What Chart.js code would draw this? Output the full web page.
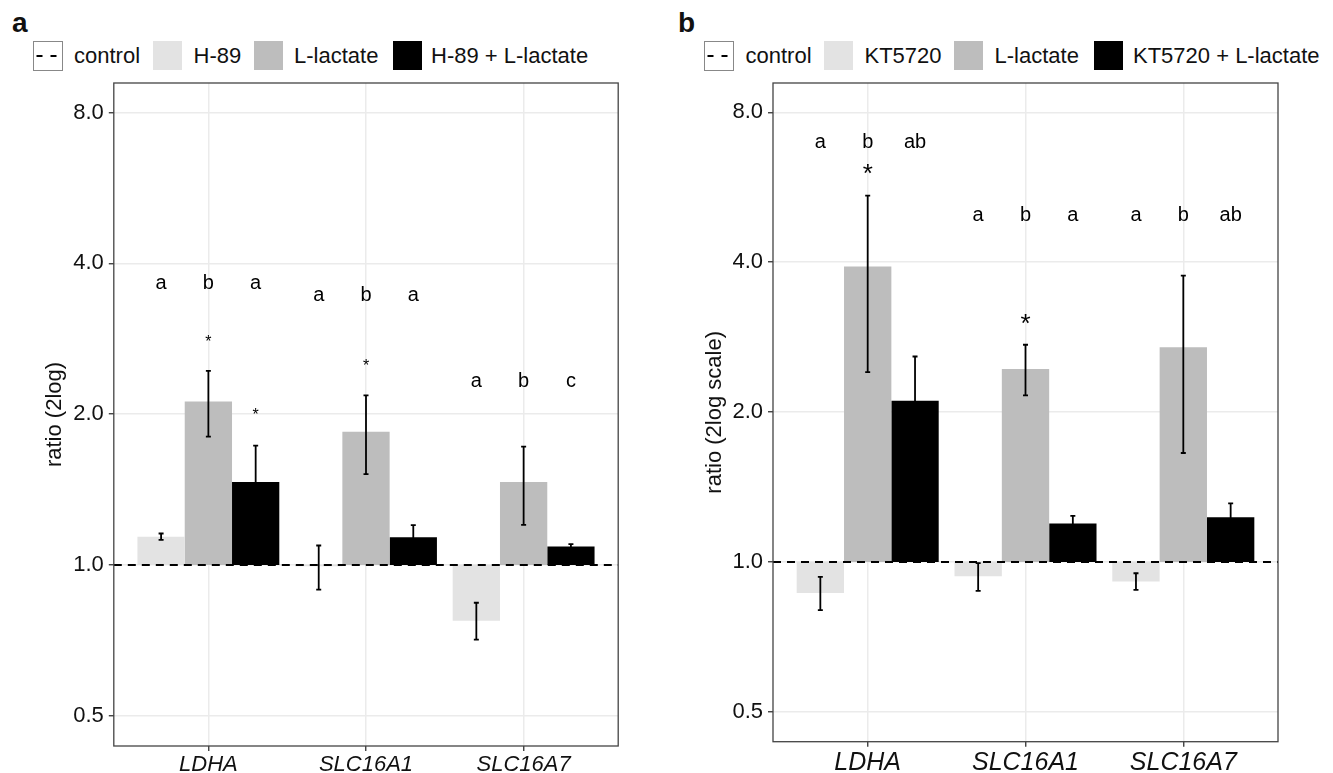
<!DOCTYPE html>
<html lang="en">
<head>
<meta charset="UTF-8" />
<title>PKA inhibitor and L-lactate gene expression</title>
<script src="https://cdn.jsdelivr.net/npm/chart.js"></script>
<style>
  body { margin: 0; background: #fff; font-family: 'Liberation Sans', Arial, sans-serif; color: #111; }
  #page { position: relative; width: 1333px; height: 773px; overflow: hidden; }
  .panel { position: absolute; top: 0; height: 773px; }
  .tag { position: absolute; top: 9px; font-weight: bold; font-size: 28px; line-height: 28px; }
  .key { position: absolute; top: 41px; width: 29px; height: 29px; }
  svg.key { width: 30px; height: 30px; }
  .lab { position: absolute; top: 41px; height: 30px; line-height: 30px; font-size: 22px; white-space: nowrap; }
</style>
</head>
<body>
<div id="page">
  <div class="tag" style="left:12px">a</div>
  <div class="tag" style="left:678px">b</div>
  <div id="legendA"></div>
  <div id="legendB"></div>
  <div class="panel" style="left:0;width:666px"><canvas id="chartA"></canvas></div>
  <div class="panel" style="left:666px;width:667px"><canvas id="chartB"></canvas></div>
</div>

<script>
// shared
const genes = ['LDHA', 'SLC16A1', 'SLC16A7'];
const yTicks = [0.5, 1, 2, 4, 8];
const fills = ['#E3E3E3', '#BDBDBD', '#000000'];

// panel a: H-89
const aTreatments = ['H-89', 'L-lactate', 'H-89 + L-lactate'];
const aH89 = [1.139, 0.995, 0.774];
const aH89Lo = [1.123, 0.893, 0.710];
const aH89Hi = [1.156, 1.094, 0.841];
const aLac = [2.12, 1.846, 1.464];
const aLacLo = [1.805, 1.518, 1.203];
const aLacHi = [2.44, 2.18, 1.724];
const aCombo = [1.464, 1.137, 1.089];
const aComboLo = [1.24, 1.077, 1.077];
const aComboHi = [1.731, 1.201, 1.101];
const aLetters = [['a', 'b', 'a'], ['a', 'b', 'a'], ['a', 'b', 'c']];
const aLetterAt = [3.65, 3.45, 2.32];
const aLacStar = [2.83, 2.53, null];
const aComboStar = [2.02, null, null];

// panel b: KT5720
const bTreatments = ['KT5720', 'L-lactate', 'KT5720 + L-lactate'];
const bKT = [0.866, 0.936, 0.914];
const bKTLo = [0.800, 0.875, 0.879];
const bKTHi = [0.933, 0.995, 0.949];
const bLac = [3.92, 2.44, 2.70];
const bLacLo = [2.406, 2.16, 1.655];
const bLacHi = [5.44, 2.73, 3.76];
const bCombo = [2.107, 1.195, 1.229];
const bComboLo = [1.72, 1.155, 1.15];
const bComboHi = [2.586, 1.237, 1.311];
const bLetters = [['a', 'b', 'ab'], ['a', 'b', 'a'], ['a', 'b', 'ab']];
const bLetterAt = [6.95, 4.96, 4.96];
const bLacStar = [6.15, 3.08, null];
const bComboStar = [null, null, null];

const FONT = "'Liberation Sans', Arial, sans-serif";
Chart.defaults.font.family = FONT;
Chart.defaults.color = '#1a1a1a';

function legend(el, names, keyX, textX) {
  let html = '<svg class="key" style="left:' + keyX[0] + 'px" width="30" height="30">' +
    '<rect x="0.5" y="0.5" width="29" height="29" fill="#fff" stroke="#888"/>' +
    '<line x1="3.5" y1="15" x2="27" y2="15" stroke="#000" stroke-width="2" stroke-dasharray="6 8"/></svg>' +
    '<div class="lab" style="left:' + textX[0] + 'px">control</div>';
  names.forEach((n, i) => {
    html += '<div class="key" style="left:' + keyX[i + 1] + 'px;background:' + fills[i] + '"></div>' +
      '<div class="lab" style="left:' + textX[i + 1] + 'px">' + n + '</div>';
  });
  document.getElementById(el).innerHTML = html;
}

const overlay = {
  id: 'overlay',
  afterDatasetsDraw(chart) {
    const { ctx, chartArea: a, scales: { y } } = chart;
    const cfg = chart.options.plugins.overlay;
    const y1 = y.getPixelForValue(1);
    ctx.save();
    ctx.beginPath();
    ctx.rect(a.left, a.top, a.width, a.height);
    ctx.clip();
    // control line
    ctx.strokeStyle = '#000';
    ctx.lineWidth = 2;
    ctx.setLineDash([8, 6]);
    ctx.beginPath();
    ctx.moveTo(a.left, y1);
    ctx.lineTo(a.right, y1);
    ctx.stroke();
    ctx.setLineDash([]);
    // error bars
    ctx.lineWidth = 1.8;
    chart.data.datasets.forEach((ds, i) => {
      chart.getDatasetMeta(i).data.forEach((bar, j) => {
        const t = y.getPixelForValue(ds.errHi[j]);
        const b = y.getPixelForValue(ds.errLo[j]);
        ctx.beginPath();
        ctx.moveTo(bar.x, t); ctx.lineTo(bar.x, b);
        ctx.moveTo(bar.x - 2.5, t); ctx.lineTo(bar.x + 2.5, t);
        ctx.moveTo(bar.x - 2.5, b); ctx.lineTo(bar.x + 2.5, b);
        ctx.stroke();
      });
    });
    ctx.restore();

    // letters and stars
    ctx.save();
    ctx.fillStyle = '#000';
    ctx.textAlign = 'center';
    ctx.textBaseline = 'middle';
    chart.data.datasets.forEach((ds, i) => {
      chart.getDatasetMeta(i).data.forEach((bar, j) => {
        ctx.font = '20px ' + FONT;
        ctx.fillText(cfg.letters[j][i], bar.x, y.getPixelForValue(cfg.letterAt[j]));
        if (ds.star && ds.star[j] != null) {
          ctx.font = cfg.starSize + 'px ' + FONT;
          ctx.fillText('*', bar.x, y.getPixelForValue(ds.star[j]) + cfg.starSize * 0.23);
        }
      });
    });
    // frame
    ctx.strokeStyle = '#444';
    ctx.lineWidth = 1.3;
    ctx.strokeRect(a.left, a.top, a.width, a.height);
    ctx.restore();
  }
};

function makePanel(id, p) {
  const series = p.series;
  return new Chart(document.getElementById(id), {
    type: 'bar',
    data: {
      labels: genes,
      datasets: series.map((s, i) => ({
        label: p.treatments[i],
        data: s.mean.map(v => [1, v]),
        errLo: s.lo,
        errHi: s.hi,
        star: s.star,
        backgroundColor: fills[i],
        borderWidth: 0,
        categoryPercentage: 0.9,
        barPercentage: 1
      }))
    },
    options: {
      responsive: true,
      maintainAspectRatio: false,
      animation: false,
      layout: { padding: { left: p.padLeft, top: 83, right: p.padRight, bottom: 0 } },
      plugins: {
        legend: { display: false },
        tooltip: { enabled: false },
        overlay: { letters: p.letters, letterAt: p.letterAt, starSize: p.starSize }
      },
      scales: {
        x: {
          type: 'category',
          offset: true,
          afterBuildTicks: s => { s._startValue = -0.6; s._valueRange = 3.2; },
          afterFit: s => { s.height = p.xHeight; },
          grid: { offset: false, color: '#EBEBEB', lineWidth: 1.5, tickColor: '#333', tickLength: 5, tickWidth: 1.3 },
          border: { display: false },
          ticks: { font: { size: p.xFont, style: 'italic' }, color: '#111', padding: 1, maxRotation: 0, autoSkip: false }
        },
        y: {
          type: 'logarithmic',
          min: 0.4355,
          max: 9.16,
          bounds: 'data',
          afterBuildTicks: s => { s.ticks = yTicks.map(v => ({ value: v })); },
          afterFit: s => { s.width = p.yWidth; },
          grid: { color: '#EBEBEB', lineWidth: 1.5, tickColor: '#333', tickLength: 5, tickWidth: 1.3 },
          border: { display: false },
          ticks: { callback: v => Number(v).toFixed(1), font: { size: 22 }, color: '#111', padding: 5 },
          title: { display: true, text: p.yTitle, font: { size: 22 }, color: '#111', padding: 0 }
        }
      }
    },
    plugins: [overlay]
  });
}

legend('legendA', aTreatments, [33, 153, 254, 392.5], [74, 193.5, 294, 431]);
legend('legendB', bTreatments, [704, 824, 954, 1093.5], [745.5, 864.5, 994.5, 1133]);

makePanel('chartA', {
  treatments: aTreatments,
  series: [
    { mean: aH89, lo: aH89Lo, hi: aH89Hi, star: null },
    { mean: aLac, lo: aLacLo, hi: aLacHi, star: aLacStar },
    { mean: aCombo, lo: aComboLo, hi: aComboHi, star: aComboStar }
  ],
  letters: aLetters, letterAt: aLetterAt, starSize: 16,
  yTitle: 'ratio (2log)', padLeft: 41.8, yWidth: 72, padRight: 47.8, xHeight: 27, xFont: 22
});

makePanel('chartB', {
  treatments: bTreatments,
  series: [
    { mean: bKT, lo: bKTLo, hi: bKTHi, star: null },
    { mean: bLac, lo: bLacLo, hi: bLacHi, star: bLacStar },
    { mean: bCombo, lo: bComboLo, hi: bComboHi, star: bComboStar }
  ],
  letters: bLetters, letterAt: bLetterAt, starSize: 26,
  yTitle: 'ratio (2log scale)', padLeft: 35.8, yWidth: 71.2, padRight: 55, xHeight: 31.3, xFont: 25
});
</script>
</body>
</html>
